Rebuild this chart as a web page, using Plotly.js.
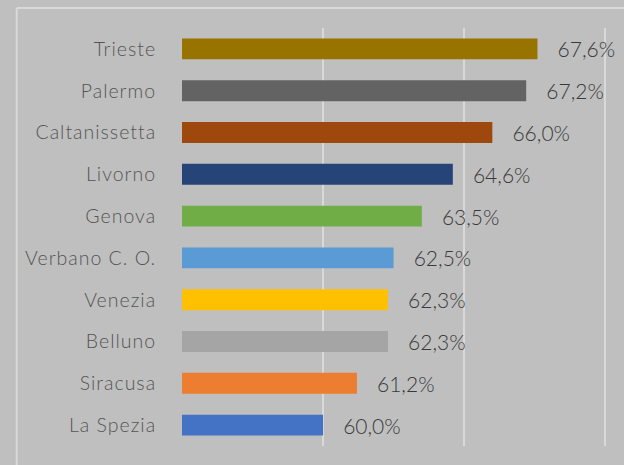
<!DOCTYPE html>
<html><head><meta charset="utf-8">
<script src="https://cdn.plot.ly/plotly-3.0.1.min.js"></script>
<style>html,body{margin:0;padding:0;background:#bfbfbf;}#chart{width:624px;height:465px;}
.ytick text{letter-spacing:1px;}
</style>
</head><body><div id="chart"></div>
<script>
const categories = ["La Spezia","Siracusa","Belluno","Venezia","Verbano C. O.","Genova","Livorno","Caltanissetta","Palermo","Trieste"];
const values = [60.0,61.2,62.3,62.3,62.5,63.5,64.6,66.0,67.2,67.6];
const colors = ["#4472c4","#ed7d31","#a5a5a5","#ffc000","#5b9bd5","#70ad47","#264478","#9e480e","#636363","#997300"];
const xTicks = [55,60,65,70];

const trace = {
  type: "bar", orientation: "h",
  y: categories, x: values,
  marker: {color: colors},
  width: 0.5,
  text: values.map(v => "\u00a0\u00a0\u00a0" + v.toFixed(1).replace(".", ",") + "%"),
  textposition: "outside",
  constraintext: "none",
  textfont: {family: "Lato, sans-serif", size: 21, weight: 300, color: "#3a3a3a"},
  cliponaxis: false,
  hoverinfo: "none"
};
const layout = {
  width: 624, height: 465,
  paper_bgcolor: "#bfbfbf", plot_bgcolor: "#bfbfbf",
  margin: {l: 182, r: 16, t: 28, b: 19},
  showlegend: false,
  separators: ",.",
  xaxis: {range: [55,70.1], tickvals: xTicks, showticklabels: false, showgrid: true, gridcolor: "#d9d9d9", gridwidth: 1.5, zeroline: false, showline: false, fixedrange: true},
  yaxis: {showgrid: false, showline: false, ticks: "outside", ticklen: 21, tickcolor: "rgba(0,0,0,0)", tickfont: {family: "Lato, sans-serif", size: 19.5, weight: 300, color: "#555555"}, fixedrange: true},
  shapes: [
    {type: "line", xref: "paper", yref: "paper", x0: -0.388, x1: 1.05, y0: 1.048, y1: 1.048, line: {color: "#d9d9d9", width: 2}},
    {type: "line", xref: "paper", yref: "paper", x0: -0.388, x1: -0.388, y0: 1.048, y1: -0.05, line: {color: "#d9d9d9", width: 2}}
  ]
};
Plotly.newPlot("chart", [trace], layout, {displayModeBar: false, staticPlot: true});
</script></body></html>
